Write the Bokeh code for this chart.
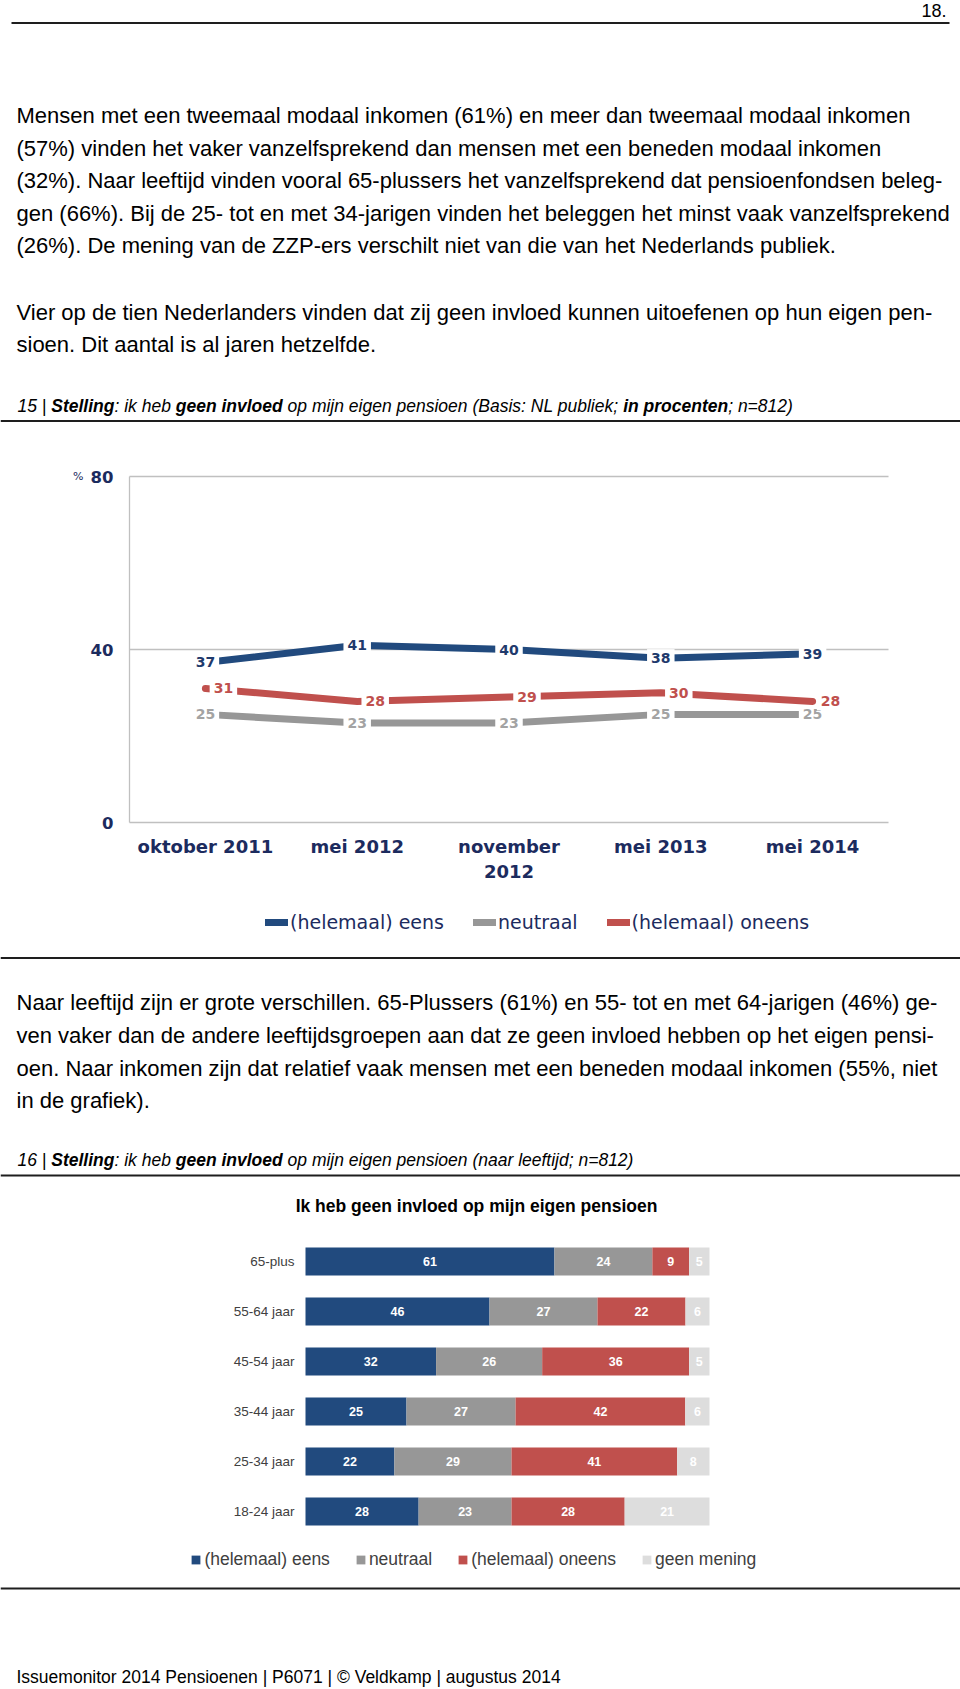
from bokeh.plotting import figure
from bokeh.models import Range1d, ColumnDataSource, Legend, LegendItem
from bokeh.embed import file_html
from bokeh.resources import INLINE
from bokeh.core.properties import value

# ---------------- data ----------------
periods = ["oktober 2011", "mei 2012", "november\n2012", "mei 2013", "mei 2014"]
eens = [37, 41, 40, 38, 39]
neutraal = [25, 23, 23, 25, 25]
oneens = [31, 28, 29, 30, 28]
line_series = ["(helemaal) eens", "neutraal", "(helemaal) oneens"]
y_ticks = [0, 40, 80]

age_groups = ["65-plus", "55-64 jaar", "45-54 jaar", "35-44 jaar", "25-34 jaar", "18-24 jaar"]
bar_eens = [61, 46, 32, 25, 22, 28]
bar_neutraal = [24, 27, 26, 27, 29, 23]
bar_oneens = [9, 22, 36, 42, 41, 28]
bar_geen = [5, 6, 5, 6, 8, 21]
bar_series = ["(helemaal) eens", "neutraal", "(helemaal) oneens", "geen mening"]

page_no = "18."
para1 = [
    "Mensen met een tweemaal modaal inkomen (61%) en meer dan tweemaal modaal inkomen",
    "(57%) vinden het vaker vanzelfsprekend dan mensen met een beneden modaal inkomen",
    "(32%). Naar leeftijd vinden vooral 65-plussers het vanzelfsprekend dat pensioenfondsen beleg-",
    "gen (66%). Bij de 25- tot en met 34-jarigen vinden het beleggen het minst vaak vanzelfsprekend",
    "(26%). De mening van de ZZP-ers verschilt niet van die van het Nederlands publiek.",
]
para2 = [
    "Vier op de tien Nederlanders vinden dat zij geen invloed kunnen uitoefenen op hun eigen pen-",
    "sioen. Dit aantal is al jaren hetzelfde.",
]
para3 = [
    "Naar leeftijd zijn er grote verschillen. 65-Plussers (61%) en 55- tot en met 64-jarigen (46%) ge-",
    "ven vaker dan de andere leeftijdsgroepen aan dat ze geen invloed hebben op het eigen pensi-",
    "oen. Naar inkomen zijn dat relatief vaak mensen met een beneden modaal inkomen (55%, niet",
    "in de grafiek).",
]
cap15 = [("15 | ", False), ("Stelling", True), (": ik heb ", False), ("geen invloed", True),
         (" op mijn eigen pensioen (Basis: NL publiek; ", False), ("in procenten", True), ("; n=812)", False)]
cap16 = [("16 | ", False), ("Stelling", True), (": ik heb ", False), ("geen invloed", True),
         (" op mijn eigen pensioen (naar leeftijd; n=812)", False)]
bar_title = "Ik heb geen invloed op mijn eigen pensioen"
footer = "Issuemonitor 2014 Pensioenen | P6071 | \u00a9 Veldkamp | augustus 2014"

# ---------------- style ----------------
SANS = "Liberation Sans"
VERD = "DejaVu Sans"
W, H = 960, 1688
TOP, BOTTOM, LEFT, RIGHT = 0, H, 0, W   # page pixel coordinates of the canvas
NAVY = "#1c2b5e"
BLUE = "#214a7e"
RED = "#c0504d"
GREY = "#979797"
LGREY = "#dddddd"
GRID = "#c0c0c0"
RULE = "#1e1e1e"

# chart frames in page pixels
C1_L, C1_R, C1_T, C1_B = 129, 888, 476, 822
C2_L, C2_R, C2_FIRST, C2_LAST = 305, 709, 1261, 1511

# Arial-compatible advance widths (1/1000 em) for rich caption layout
AR = {c: 556 for c in "abdeghnopqu0123456789"}
AR.update({c: 500 for c in "ckvxyz"})
AR.update({"s": 500, "f": 278, "i": 222, "j": 222, "l": 222, "m": 833, "r": 333, "t": 278,
           "w": 722, " ": 278, "|": 260, ":": 278, ";": 278, "(": 333, ")": 333, "=": 584,
           "B": 667, "N": 722, "L": 556, "S": 667})
AB = {c: 611 for c in "bdghnopqu"}
AB.update({c: 556 for c in "acekvxy0123456789s"})
AB.update({"f": 333, "i": 278, "j": 278, "l": 278, "m": 889, "r": 389, "t": 333,
           "w": 778, "z": 500, " ": 278, "S": 667})


def lin_range(v0, px0, v1, px1, pstart, pend):
    """Range whose start/end fall on the canvas edges so that v0->px0 and v1->px1."""
    k = (v1 - v0) / (px1 - px0)
    return Range1d(v0 + (pstart - px0) * k, v0 + (pend - px0) * k)


p = figure(width=W, height=H, x_range=Range1d(LEFT, RIGHT), y_range=Range1d(BOTTOM, TOP),
           x_axis_location=None, y_axis_location=None, output_backend="svg",
           toolbar_location=None, tools="", min_border=0, min_border_left=0,
           min_border_right=0, min_border_top=0, min_border_bottom=0)
p.xgrid.visible = False
p.ygrid.visible = False
p.outline_line_color = None
p.background_fill_color = "white"
p.border_fill_color = "white"

xs = list(range(len(periods)))
x_lo, x_hi = -0.5, len(periods) - 0.5
yi = list(range(len(age_groups)))
p.extra_x_ranges = {
    "c1x": lin_range(x_lo, C1_L, x_hi, C1_R, LEFT, RIGHT),
    "c2x": lin_range(0, C2_L, 100, C2_R, LEFT, RIGHT),
}
p.extra_y_ranges = {
    "c1y": lin_range(y_ticks[0], C1_B, y_ticks[-1], C1_T, BOTTOM, TOP),
    "c2y": lin_range(yi[0], C2_FIRST, yi[-1], C2_LAST, BOTTOM, TOP),
}
C1 = dict(x_range_name="c1x", y_range_name="c1y")
C2 = dict(x_range_name="c2x", y_range_name="c2y")


def put(x, y, s, size, font=SANS, style="normal", color="#000000", align="left"):
    p.text(x=[x], y=[y], text=[s], text_font=value(font), text_font_size=f"{size}px",
           text_font_style=style, text_color=color, text_align=align, text_baseline="middle")


def rule(y, x0=LEFT, x1=RIGHT, width=2):
    p.line(x=[x0, x1], y=[y, y], line_color=RULE, line_width=width)


def rich(x, y, segs, size):
    for s, bold in segs:
        tab = AB if bold else AR
        lead = len(s) - len(s.lstrip(" "))
        core = s.strip(" ")
        if core:
            put(x + lead * tab[" "] / 1000 * size, y, core, size,
                style=("bold italic" if bold else "italic"))
        x += sum(tab.get(c, 556) for c in s) / 1000 * size


# ---------------- page text ----------------
put(946, 10, page_no, 18, align="right")
rule(22.5, 11, 949)
for i, s in enumerate(para1):
    put(16, 115 + 32.5 * i, s, 22)
for i, s in enumerate(para2):
    put(16, 311.5 + 32.5 * i, s, 22)
rich(17, 405, cap15, 17.5)
rule(420.5)

rule(957.5)
for i, s in enumerate(para3):
    put(16, 1002 + 32.8 * i, s, 22)
rich(17, 1159, cap16, 17.5)
rule(1175)
put(476, 1205, bar_title, 17.5, style="bold", align="center")

rule(1588)
put(16, 1676, footer, 17.5)

# ---------------- chart 1: line chart ----------------
# grid lines + axes
p.segment(x0=[x_lo] * len(y_ticks), x1=[x_hi] * len(y_ticks), y0=y_ticks, y1=y_ticks,
          line_color=GRID, line_width=1.3, **C1)
p.segment(x0=[x_lo], x1=[x_lo], y0=[y_ticks[0]], y1=[y_ticks[-1]], line_color=GRID, line_width=1.3, **C1)
p.text(x=[x_lo] * len(y_ticks), y=y_ticks, text=[str(t) for t in y_ticks], x_offset=-16,
       text_align="right", text_baseline="middle", text_font=value(VERD), text_font_style="bold",
       text_font_size="16.5px", text_color=NAVY, **C1)
p.text(x=[x_lo], y=[y_ticks[-1]], text=["%"], x_offset=-46, text_align="right", text_baseline="middle",
       text_font=value(VERD), text_font_size="11px", text_color=NAVY, **C1)
p.text(x=xs, y=[y_ticks[0]] * len(xs), text=periods, y_offset=13, text_align="center",
       text_baseline="top", text_font=value(VERD), text_font_style="bold", text_font_size="18px",
       text_color=NAVY, text_line_height=1.2, **C1)

src1 = ColumnDataSource(dict(
    x=xs, v_e=eens, v_n=neutraal, v_o=oneens,
    t_e=[str(v) for v in eens], t_n=[str(v) for v in neutraal], t_o=[str(v) for v in oneens]))

lk = dict(line_width=7, line_cap="round", line_join="round")
r_n = p.line("x", "v_n", source=src1, line_color=GREY, **lk, **C1)
r_o = p.line("x", "v_o", source=src1, line_color=RED, **lk, **C1)
r_e = p.line("x", "v_e", source=src1, line_color=BLUE, **lk, **C1)

tk = dict(text_align="center", text_baseline="middle", text_font=value(VERD), text_font_style="bold",
          text_font_size="14px", background_fill_color="white", padding=4)
p.text("x", "v_n", text="t_n", source=src1, text_color="#a3a3a3", **tk, **C1)
p.text("x", "v_o", text="t_o", source=src1, text_color=RED, x_offset=18, **tk, **C1)
p.text("x", "v_e", text="t_e", source=src1, text_color="#1f3a6c", **tk, **C1)

leg1 = Legend(items=[LegendItem(label=value(line_series[0]), renderers=[r_e]),
                     LegendItem(label=value(line_series[1]), renderers=[r_n]),
                     LegendItem(label=value(line_series[2]), renderers=[r_o])],
              orientation="horizontal", location=(265 - LEFT, BOTTOM - 932.5),
              glyph_width=23, glyph_height=20, label_standoff=2, spacing=29, padding=0, margin=0,
              border_line_color=None, background_fill_alpha=0, label_text_font=VERD,
              label_text_font_size="19px", label_text_color=NAVY)
p.add_layout(leg1)

# ---------------- chart 2: 100% stacked bars ----------------
bar_cols = [bar_eens, bar_neutraal, bar_oneens, bar_geen]
totals = [sum(v) for v in zip(*bar_cols)]
norm = [[v * 100.0 / t for v, t in zip(col, totals)] for col in bar_cols]
keys = ["s0", "s1", "s2", "s3"]
bar_colors = [BLUE, GREY, RED, LGREY]

bsrc = ColumnDataSource(dict(yi=yi, **{k: n for k, n in zip(keys, norm)}))
bars = p.hbar_stack(keys, y="yi", height=0.56, fill_color=bar_colors, line_color=None,
                    source=bsrc, **C2)

p.text(x=[0] * len(yi), y=yi, text=age_groups, x_offset=-11, text_align="right", text_baseline="middle",
       text_font=value(SANS), text_font_size="13.5px", text_color="#404040", **C2)

lab_x, lab_y, lab_t = [], [], []
for gi in yi:
    left = 0.0
    for si in range(len(keys)):
        w = norm[si][gi]
        lab_x.append(left + w / 2)
        lab_y.append(gi)
        lab_t.append(str(bar_cols[si][gi]))
        left += w
p.text(x=lab_x, y=lab_y, text=lab_t, text_align="center", text_baseline="middle",
       text_font=value(SANS), text_font_style="bold", text_font_size="12.5px", text_color="white", **C2)

leg2 = Legend(items=[LegendItem(label=value(n), renderers=[r]) for n, r in zip(bar_series, bars)],
              orientation="horizontal", location=(190.4 - LEFT, BOTTOM - 1570),
              glyph_width=11, glyph_height=11, label_standoff=3, spacing=25, padding=0, margin=0,
              border_line_color=None, background_fill_alpha=0, label_text_font=SANS,
              label_text_font_size="17.5px", label_text_color="#404040")
p.add_layout(leg2)

open("out.html", "w").write(file_html(p, INLINE))
